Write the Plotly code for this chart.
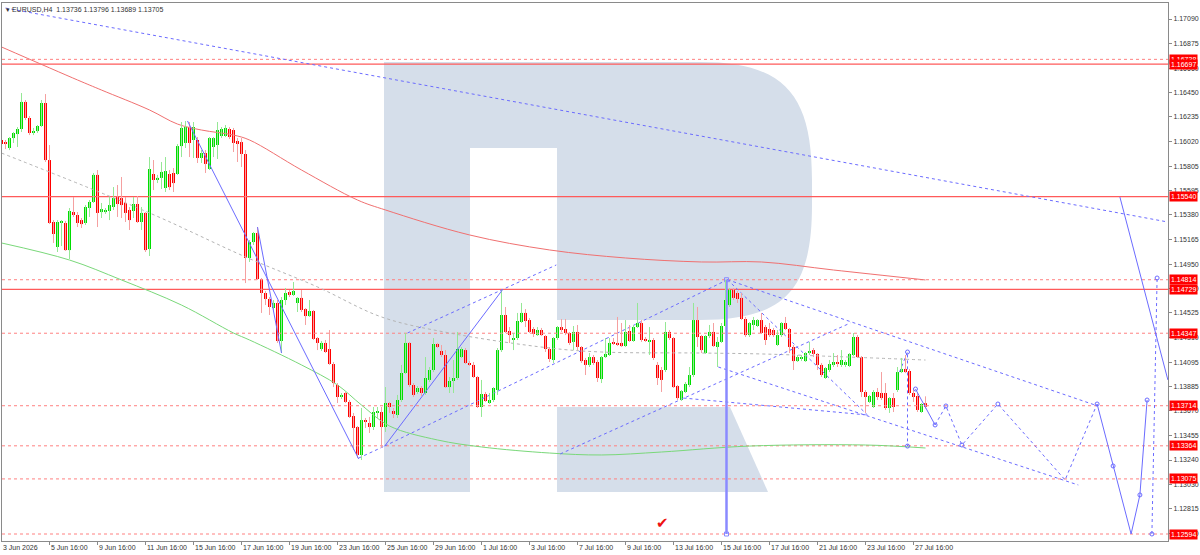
import plotly.graph_objects as go

# ---------------- data ----------------
tick_pos = [0, 12, 24, 36, 48, 60, 72, 84, 96, 108, 120, 132, 144, 156, 168, 180, 192, 204, 216, 228]
tick_labels = ["3 Jun 2026", "5 Jun 16:00", "9 Jun 16:00", "11 Jun 16:00", "15 Jun 16:00",
               "17 Jun 16:00", "19 Jun 16:00", "23 Jun 16:00", "25 Jun 16:00", "29 Jun 16:00",
               "1 Jul 16:00", "3 Jul 16:00", "7 Jul 16:00", "9 Jul 16:00", "13 Jul 16:00",
               "15 Jul 16:00", "17 Jul 16:00", "21 Jul 16:00", "23 Jul 16:00", "27 Jul 16:00"]

price_ticks = [1.17090, 1.16875, 1.16660, 1.16450, 1.16235, 1.16020, 1.15805, 1.15595, 1.15380,
               1.15165, 1.14950, 1.14740, 1.14525, 1.14310, 1.14095, 1.13885, 1.13670, 1.13455,
               1.13240, 1.13030, 1.12815, 1.12600]

ohlc_rows = [
    (1.16034, 1.16130, 1.15964, 1.15999), (1.16008, 1.16034, 1.15955, 1.15999), (1.15964, 1.16060, 1.15946, 1.16051),
    (1.16051, 1.16104, 1.16008, 1.16095), (1.16086, 1.16147, 1.15973, 1.16130), (1.16130, 1.16444, 1.16104, 1.16366),
    (1.16366, 1.16383, 1.16208, 1.16226), (1.16226, 1.16243, 1.16077, 1.16095), (1.16095, 1.16139, 1.16077, 1.16112),
    (1.16112, 1.16165, 1.16095, 1.16156), (1.16156, 1.16383, 1.16147, 1.16357), (1.16357, 1.16435, 1.15842, 1.15859),
    (1.15859, 1.15990, 1.15300, 1.15309), (1.15318, 1.15335, 1.15135, 1.15213), (1.15100, 1.15335, 1.15056, 1.15318),
    (1.15309, 1.15335, 1.15108, 1.15327), (1.15309, 1.15327, 1.15065, 1.15073), (1.15073, 1.15440, 1.14995, 1.15414),
    (1.15405, 1.15536, 1.15362, 1.15379), (1.15379, 1.15405, 1.15274, 1.15309), (1.15335, 1.15353, 1.15266, 1.15300),
    (1.15309, 1.15466, 1.15292, 1.15449), (1.15440, 1.15510, 1.15362, 1.15493), (1.15493, 1.15746, 1.15484, 1.15729),
    (1.15729, 1.15772, 1.15274, 1.15397), (1.15405, 1.15484, 1.15353, 1.15431), (1.15405, 1.15440, 1.15388, 1.15423),
    (1.15414, 1.15536, 1.15335, 1.15466), (1.15449, 1.15623, 1.15423, 1.15527), (1.15536, 1.15641, 1.15362, 1.15475),
    (1.15527, 1.15711, 1.15353, 1.15466), (1.15484, 1.15536, 1.15318, 1.15397), (1.15423, 1.15449, 1.15248, 1.15335),
    (1.15414, 1.15536, 1.15353, 1.15475), (1.15475, 1.15545, 1.15309, 1.15318), (1.15318, 1.15449, 1.15248, 1.15397),
    (1.15397, 1.15405, 1.15056, 1.15073), (1.15082, 1.15885, 1.15021, 1.15781), (1.15737, 1.15859, 1.15597, 1.15685),
    (1.15685, 1.15729, 1.15658, 1.15703), (1.15703, 1.15842, 1.15606, 1.15755), (1.15615, 1.15885, 1.15580, 1.15763),
    (1.15737, 1.15772, 1.15597, 1.15623), (1.15746, 1.15789, 1.15580, 1.15658), (1.15737, 1.15999, 1.15729, 1.15981),
    (1.15981, 1.16191, 1.15885, 1.16139), (1.16008, 1.16200, 1.15964, 1.16147), (1.16147, 1.16191, 1.15885, 1.16008),
    (1.16034, 1.16191, 1.15877, 1.16147), (1.16034, 1.16060, 1.15833, 1.15877), (1.15877, 1.15946, 1.15833, 1.15920),
    (1.15920, 1.15946, 1.15746, 1.15825), (1.15781, 1.16060, 1.15772, 1.16051), (1.15973, 1.16060, 1.15885, 1.16051),
    (1.15990, 1.16191, 1.15868, 1.16121), (1.16069, 1.16147, 1.16051, 1.16130), (1.16069, 1.16165, 1.16060, 1.16139),
    (1.16130, 1.16147, 1.16043, 1.16060), (1.16121, 1.16139, 1.15929, 1.16008), (1.16025, 1.16051, 1.15842, 1.15999),
    (1.16016, 1.16051, 1.15798, 1.15912), (1.15912, 1.15946, 1.14785, 1.15004), (1.15004, 1.15161, 1.14969, 1.15143),
    (1.15143, 1.15231, 1.15117, 1.15222), (1.15222, 1.15274, 1.14812, 1.14820), (1.14820, 1.14829, 1.14524, 1.14698),
    (1.14698, 1.14716, 1.14593, 1.14646), (1.14646, 1.14663, 1.14506, 1.14576), (1.14567, 1.14637, 1.14550, 1.14611),
    (1.14611, 1.14637, 1.14262, 1.14279), (1.14279, 1.14663, 1.14174, 1.14637), (1.14637, 1.14742, 1.14593, 1.14698),
    (1.14707, 1.14724, 1.14663, 1.14681), (1.14681, 1.14794, 1.14672, 1.14716), (1.14611, 1.14663, 1.14532, 1.14655),
    (1.14655, 1.14724, 1.14532, 1.14550), (1.14558, 1.14567, 1.14419, 1.14497), (1.14497, 1.14637, 1.14489, 1.14541),
    (1.14541, 1.14550, 1.14288, 1.14297), (1.14305, 1.14314, 1.14200, 1.14262), (1.14209, 1.14279, 1.14192, 1.14262),
    (1.14262, 1.14288, 1.14174, 1.14183), (1.14209, 1.14375, 1.14070, 1.14078), (1.14078, 1.14096, 1.13877, 1.13912),
    (1.13895, 1.13912, 1.13738, 1.13790), (1.13790, 1.13825, 1.13773, 1.13808), (1.13825, 1.13834, 1.13738, 1.13747),
    (1.13747, 1.13764, 1.13607, 1.13616), (1.13624, 1.13651, 1.13327, 1.13520), (1.13528, 1.13537, 1.13257, 1.13284),
    (1.13284, 1.13694, 1.13240, 1.13589), (1.13589, 1.13607, 1.13520, 1.13572), (1.13563, 1.13616, 1.13476, 1.13528),
    (1.13528, 1.13703, 1.13502, 1.13659), (1.13659, 1.13703, 1.13607, 1.13668), (1.13659, 1.13703, 1.13345, 1.13528),
    (1.13528, 1.13877, 1.13485, 1.13738), (1.13738, 1.13747, 1.13651, 1.13703), (1.13668, 1.13694, 1.13607, 1.13642),
    (1.13633, 1.13808, 1.13607, 1.13764), (1.13764, 1.14070, 1.13747, 1.14000), (1.14000, 1.14349, 1.13991, 1.14262),
    (1.14262, 1.14271, 1.13877, 1.13895), (1.13895, 1.13912, 1.13790, 1.13808), (1.13834, 1.13886, 1.13816, 1.13869),
    (1.13869, 1.13886, 1.13799, 1.13825), (1.13825, 1.14139, 1.13808, 1.13956), (1.13939, 1.14052, 1.13921, 1.14026),
    (1.14026, 1.14305, 1.14008, 1.14253), (1.14253, 1.14262, 1.14218, 1.14227), (1.14192, 1.14244, 1.14139, 1.14157),
    (1.14157, 1.14200, 1.13869, 1.13877), (1.13877, 1.13965, 1.13825, 1.13930), (1.13930, 1.14113, 1.13825, 1.13956),
    (1.13956, 1.14358, 1.13939, 1.14209), (1.14139, 1.14227, 1.14131, 1.14209), (1.14200, 1.14218, 1.14078, 1.14087),
    (1.14087, 1.14104, 1.14061, 1.14070), (1.14070, 1.14096, 1.13956, 1.13965), (1.13965, 1.13974, 1.13694, 1.13703),
    (1.13703, 1.13939, 1.13616, 1.13816), (1.13816, 1.13834, 1.13747, 1.13755), (1.13738, 1.13825, 1.13729, 1.13764),
    (1.13764, 1.13877, 1.13747, 1.13869), (1.13851, 1.14218, 1.13808, 1.14200), (1.14200, 1.14724, 1.14183, 1.14506),
    (1.14506, 1.14576, 1.14349, 1.14358), (1.14366, 1.14401, 1.14262, 1.14331), (1.14288, 1.14349, 1.14200, 1.14305),
    (1.14305, 1.14524, 1.14288, 1.14454), (1.14445, 1.14611, 1.14436, 1.14524), (1.14524, 1.14558, 1.14401, 1.14454),
    (1.14462, 1.14480, 1.14349, 1.14358), (1.14384, 1.14401, 1.14314, 1.14340), (1.14331, 1.14401, 1.14323, 1.14375),
    (1.14375, 1.14393, 1.14323, 1.14331), (1.14323, 1.14331, 1.14183, 1.14209), (1.14209, 1.14227, 1.14096, 1.14122),
    (1.14113, 1.14314, 1.14087, 1.14305), (1.14305, 1.14410, 1.14288, 1.14401), (1.14401, 1.14471, 1.14358, 1.14375),
    (1.14384, 1.14471, 1.14331, 1.14349), (1.14349, 1.14358, 1.14244, 1.14262), (1.14271, 1.14410, 1.14200, 1.14358),
    (1.14358, 1.14419, 1.14200, 1.14227), (1.14227, 1.14235, 1.14087, 1.14104), (1.14113, 1.14131, 1.13982, 1.14070),
    (1.14070, 1.14174, 1.14052, 1.14139), (1.14139, 1.14157, 1.14070, 1.14087), (1.14096, 1.14113, 1.13921, 1.13956),
    (1.13947, 1.14148, 1.13912, 1.14139), (1.14139, 1.14305, 1.14131, 1.14166), (1.14157, 1.14305, 1.14148, 1.14262),
    (1.14262, 1.14305, 1.14244, 1.14253), (1.14262, 1.14489, 1.14235, 1.14244), (1.14262, 1.14436, 1.14227, 1.14235),
    (1.14235, 1.14462, 1.14227, 1.14358), (1.14366, 1.14419, 1.14271, 1.14279), (1.14279, 1.14419, 1.14271, 1.14401),
    (1.14401, 1.14611, 1.14393, 1.14436), (1.14436, 1.14462, 1.14271, 1.14288), (1.14297, 1.14314, 1.14271, 1.14279),
    (1.14279, 1.14401, 1.14157, 1.14288), (1.14288, 1.14305, 1.14113, 1.14131), (1.14070, 1.14096, 1.13895, 1.13956),
    (1.14026, 1.14052, 1.13834, 1.13939), (1.14026, 1.14445, 1.14008, 1.14358), (1.14358, 1.14375, 1.14288, 1.14305),
    (1.14305, 1.14314, 1.13869, 1.13877), (1.13886, 1.13895, 1.13764, 1.13781), (1.13764, 1.13851, 1.13755, 1.13842),
    (1.13834, 1.13921, 1.13825, 1.13904), (1.13895, 1.14052, 1.13877, 1.13982), (1.13982, 1.14611, 1.13965, 1.14462),
    (1.14462, 1.14576, 1.14227, 1.14314), (1.14323, 1.14331, 1.14174, 1.14200), (1.14174, 1.14331, 1.14166, 1.14323),
    (1.14323, 1.14419, 1.14305, 1.14358), (1.14358, 1.14436, 1.14227, 1.14235), (1.14227, 1.14314, 1.14052, 1.14271),
    (1.14271, 1.14436, 1.14262, 1.14410), (1.14410, 1.14814, 1.14401, 1.14637), (1.14593, 1.14742, 1.14576, 1.14724),
    (1.14724, 1.14742, 1.14637, 1.14655), (1.14698, 1.14716, 1.14611, 1.14646), (1.14655, 1.14698, 1.14462, 1.14471),
    (1.14471, 1.14489, 1.14314, 1.14331), (1.14331, 1.14445, 1.14314, 1.14436), (1.14419, 1.14489, 1.14375, 1.14462),
    (1.14410, 1.14471, 1.14401, 1.14462), (1.14462, 1.14524, 1.14340, 1.14349), (1.14401, 1.14419, 1.14244, 1.14288),
    (1.14384, 1.14436, 1.14314, 1.14331), (1.14375, 1.14393, 1.14314, 1.14331), (1.14244, 1.14375, 1.14235, 1.14331),
    (1.14331, 1.14445, 1.14314, 1.14436), (1.14436, 1.14489, 1.14375, 1.14384), (1.14384, 1.14393, 1.14174, 1.14227),
    (1.14227, 1.14244, 1.14026, 1.14104), (1.14104, 1.14157, 1.14096, 1.14139), (1.14122, 1.14157, 1.14104, 1.14139),
    (1.14104, 1.14183, 1.14096, 1.14174), (1.14174, 1.14271, 1.14157, 1.14192), (1.14200, 1.14218, 1.14139, 1.14166),
    (1.14166, 1.14174, 1.14026, 1.14070), (1.14070, 1.14087, 1.13965, 1.13982), (1.13956, 1.14052, 1.13947, 1.14043),
    (1.14026, 1.14113, 1.14008, 1.14078), (1.14070, 1.14174, 1.14052, 1.14096), (1.14096, 1.14157, 1.14052, 1.14078),
    (1.14070, 1.14200, 1.14052, 1.14113), (1.14070, 1.14113, 1.14052, 1.14096), (1.14061, 1.14174, 1.14052, 1.14166),
    (1.14157, 1.14349, 1.14148, 1.14314), (1.14314, 1.14331, 1.14131, 1.14139), (1.14139, 1.14148, 1.13790, 1.13834),
    (1.13834, 1.13851, 1.13651, 1.13790), (1.13747, 1.13808, 1.13738, 1.13799), (1.13703, 1.13851, 1.13694, 1.13834),
    (1.13834, 1.13869, 1.13764, 1.13790), (1.13825, 1.14008, 1.13764, 1.13781), (1.13825, 1.13912, 1.13677, 1.13694),
    (1.13694, 1.13790, 1.13651, 1.13781), (1.13781, 1.13825, 1.13659, 1.13703), (1.13851, 1.14052, 1.13834, 1.14008),
    (1.14008, 1.14131, 1.13999, 1.14035), (1.14035, 1.14157, 1.13999, 1.14008), (1.14017, 1.14035, 1.13808, 1.13825),
    (1.13825, 1.13869, 1.13747, 1.13790), (1.13799, 1.13825, 1.13659, 1.13677), (1.13659, 1.13738, 1.13651, 1.13729),
    (1.13736, 1.13796, 1.13689, 1.13705),
]
open_ = [r[0] for r in ohlc_rows]
high = [r[1] for r in ohlc_rows]
low = [r[2] for r in ohlc_rows]
close = [r[3] for r in ohlc_rows]
bar_index = list(range(len(ohlc_rows)))

ma_red_x = [0, 19, 25, 37, 44, 50, 58, 62, 75, 89, 96, 117, 137, 156, 175, 190, 208, 231]
ma_red_y = [1.16846, 1.16558, 1.16470, 1.16296, 1.16173, 1.16121, 1.16077, 1.16034, 1.15772, 1.15510,
            1.15423, 1.15205, 1.15074, 1.15004, 1.14969, 1.14969, 1.14899, 1.14812]
ma_green_x = [0, 17, 30, 45, 58, 62, 75, 84, 90, 97, 109, 120, 137, 150, 165, 187, 216, 231]
ma_green_y = [1.15135, 1.14986, 1.14812, 1.14593, 1.14349, 1.14288, 1.14070, 1.13895, 1.13720, 1.13537,
              1.13415, 1.13354, 1.13301, 1.13284, 1.13310, 1.13362, 1.13371, 1.13345]
ma_gray_x = [0, 37, 61, 79, 95, 112, 137, 150, 175, 190, 205, 231]
ma_gray_y = [1.15920, 1.15397, 1.15013, 1.14751, 1.14489, 1.14349, 1.14218, 1.14183, 1.14174, 1.14166,
             1.14148, 1.14113]

# horizontal levels
levels_solid = [1.16697, 1.15540, 1.14729]
levels_dotted = [1.16738, 1.14814, 1.14347, 1.13714, 1.13364, 1.13075, 1.12594]
level_labels = [1.16738, 1.16697, 1.15540, 1.14814, 1.14729, 1.14347, 1.13714, 1.13364, 1.13075, 1.12594]

# analysis lines: (bar index, price) pairs
solid_lines = [
    [(46.5, 1.16200), (89.3, 1.13249)],
    [(64, 1.15274), (70, 1.14174)],
    [(95.8, 1.13362), (125.2, 1.14724)],
    [(228.5, 1.13860), (233.4, 1.13546)],
    [(273.9, 1.13729), (277.9, 1.13188), (282.4, 1.12594), (284.6, 1.12935), (286.4, 1.13764)],
    [(279.6, 1.15536), (291.6, 1.13939)],
]
dotted_lines = [
    [(1.0, 1.17186), (291.6, 1.15318)],
    [(101.5, 1.14349), (138.7, 1.14943)],
    [(95.8, 1.13362), (181.5, 1.14814)],
    [(89.3, 1.13257), (95.8, 1.13362)],
    [(139.7, 1.13293), (212.2, 1.14436)],
    [(181.5, 1.14814), (273.9, 1.13714)],
    [(181.5, 1.14814), (216.5, 1.13633)],
    [(179.2, 1.14052), (269.2, 1.13022)],
    [(170.5, 1.13781), (216.5, 1.13633)],
    [(224.5, 1.14008), (226.5, 1.14183), (226.5, 1.13362)],
    [(233.4, 1.13546), (236.1, 1.13712), (240.1, 1.13371), (249.1, 1.13729), (257.1, 1.13415),
     (265.9, 1.13066), (273.9, 1.13729)],
    [(287.6, 1.12594), (288.9, 1.14829)],
]
vline_15jul = [(181.25, 1.14814), (181.25, 1.12594)]
check_mark = (165.2, 1.12690)

header = "EURUSD,H4  1.13736 1.13796 1.13689 1.13705"

# ---------------- figure ----------------
W, H = 1200, 555
ML, MR, MT, MB = 2, 32, 3, 14
PW, PH = W - ML - MR, H - MT - MB
X0, X1 = 0.125, 291.625


def pp(px, py):
    return (px - ML) / PW, (H - MB - py) / PH


def path(points):
    s = ""
    for cmd, pts in points:
        s += cmd + " " + " ".join("%.5f,%.5f" % pp(*p) for p in pts) + " "
    return s + "Z"


fig = go.Figure()

wm = "#d5deea"
# watermark "R"
r_outer = path([
    ("M", [(384, 62)]), ("L", [(700, 62)]),
    ("C", [(785, 62), (812, 95), (812, 180)]),
    ("L", [(812, 205)]),
    ("C", [(812, 290), (785, 320), (700, 320)]),
    ("L", [(557, 320)]), ("L", [(557, 148)]), ("L", [(470, 148)]),
    ("L", [(470, 492)]), ("L", [(384, 492)]),
])
r_leg = path([("M", [(557, 407)]), ("L", [(730, 407)]), ("L", [(768, 492)]), ("L", [(557, 492)])])
for d in (r_outer, r_leg):
    fig.add_shape(type="path", path=d, xref="paper", yref="paper",
                  fillcolor=wm, line=dict(width=0), layer="below")

# horizontal levels (as traces spanning the axis)
for p in levels_dotted:
    fig.add_trace(go.Scatter(x=[X0, X1], y=[p, p], mode="lines",
                             line=dict(color="#ff8080", width=1, dash="dot"), hoverinfo="skip"))
for p in levels_solid:
    fig.add_trace(go.Scatter(x=[X0, X1], y=[p, p], mode="lines",
                             line=dict(color="#ff5a5a", width=1.2), hoverinfo="skip"))

# moving averages
fig.add_trace(go.Scatter(x=ma_red_x, y=ma_red_y, mode="lines", line=dict(color="#f07070", width=1, shape="spline"),
                         hoverinfo="skip"))
fig.add_trace(go.Scatter(x=ma_green_x, y=ma_green_y, mode="lines",
                         line=dict(color="#7ad87a", width=1, shape="spline"), hoverinfo="skip"))
fig.add_trace(go.Scatter(x=ma_gray_x, y=ma_gray_y, mode="lines",
                         line=dict(color="#b4b4b4", width=1, dash="dot", shape="spline"), hoverinfo="skip"))

# analysis lines
blue = "#6b6bff"


def line_trace(pts, dash, width=1, color=blue, markers=False):
    return go.Scatter(x=[p[0] for p in pts], y=[p[1] for p in pts],
                      mode="lines+markers" if markers else "lines",
                      line=dict(color=color, width=width, dash=dash),
                      marker=dict(size=4, symbol="square-open", color=color),
                      hoverinfo="skip")


for pts in dotted_lines:
    fig.add_trace(line_trace(pts, "dot", markers=False))
fig.add_trace(line_trace(vline_15jul, "solid", width=2.5, color="#8a8aff", markers=True))

# candle wicks
up = [i for i in bar_index if close[i] >= open_[i]]
dn = [i for i in bar_index if close[i] < open_[i]]


def wick(idx):
    xs, ys = [], []
    for i in idx:
        xs += [i, i, None]
        ys += [low[i], high[i], None]
    return xs, ys


for idx, col in ((up, "#95e895"), (dn, "#f5a0a0")):
    xs, ys = wick(idx)
    fig.add_trace(go.Scatter(x=xs, y=ys, mode="lines", line=dict(color=col, width=1), hoverinfo="skip"))

# candle bodies
for idx, col in ((up, "#00dd00"), (dn, "#ff0000")):
    base = [min(open_[i], close[i]) for i in idx]
    hgt = [max(abs(close[i] - open_[i]), 0.00009) for i in idx]
    fig.add_trace(go.Bar(x=idx, y=hgt, base=base, width=0.75, marker=dict(color=col, line=dict(width=0)),
                         hoverinfo="skip"))

for pts in solid_lines:
    fig.add_trace(line_trace(pts, "solid", markers=False))

# markers on projection
mk = [solid_lines[3][0], solid_lines[3][1], solid_lines[4][0], solid_lines[4][1], solid_lines[4][3],
      solid_lines[4][4], dotted_lines[9][1], dotted_lines[9][2], dotted_lines[11][0], dotted_lines[11][1],
      dotted_lines[10][1], dotted_lines[10][2], dotted_lines[10][3]]
fig.add_trace(go.Scatter(x=[p[0] for p in mk], y=[p[1] for p in mk], mode="markers",
                         marker=dict(size=4, symbol="circle-open", color=blue, line=dict(width=1)),
                         hoverinfo="skip"))

font = "Liberation Sans"
ann = []
# x labels (left aligned at tick)
for tv, tl in zip(tick_pos, tick_labels):
    ann.append(dict(x=max(tv, X0), y=0, xref="x", yref="paper", text=tl, showarrow=False, xanchor="left",
                    yanchor="top", xshift=-1, yshift=-1, font=dict(family=font, size=7, color="#333333")))
# level price labels
for p in level_labels:
    ann.append(dict(x=1, y=p, xref="paper", yref="y", text="%.5f" % p, showarrow=False, xanchor="left",
                    yanchor="middle", xshift=1, bgcolor="#ff0000", borderpad=1,
                    font=dict(family=font, size=7, color="#ffffff")))
ann.append(dict(x=0, y=1, xref="paper", yref="paper", text="\u25be " + header, showarrow=False,
                xanchor="left", yanchor="top", xshift=2, yshift=-1, font=dict(family=font, size=7, color="#333333")))
ann.append(dict(x=check_mark[0], y=check_mark[1], xref="x", yref="y", text="\u2714", showarrow=False,
                font=dict(family="DejaVu Sans", size=15, color="#ee1111")))

fig.update_layout(
    width=W, height=H, margin=dict(l=ML, r=MR, t=MT, b=MB, autoexpand=False),
    paper_bgcolor="white", plot_bgcolor="white", showlegend=False, barmode="overlay",
    annotations=ann,
    xaxis=dict(range=[X0, X1], showgrid=False, zeroline=False, showline=True, mirror=True,
               linecolor="#8a8a8a", linewidth=1, tickvals=tick_pos, ticktext=[""] * len(tick_pos),
               ticks="outside", ticklen=3, tickcolor="#8a8a8a"),
    yaxis=dict(range=[1.12533, 1.17230], side="right", showgrid=False, zeroline=False, showline=True,
               mirror=True, linecolor="#8a8a8a", linewidth=1, tickvals=price_ticks,
               ticktext=["%.5f" % v for v in price_ticks], ticks="outside", ticklen=3, tickcolor="#8a8a8a",
               tickfont=dict(family=font, size=7, color="#333333")),
)

fig.write_html("out.html", config={"displayModeBar": False},
               post_script="document.body.style.margin='0';document.body.style.overflow='hidden';")
